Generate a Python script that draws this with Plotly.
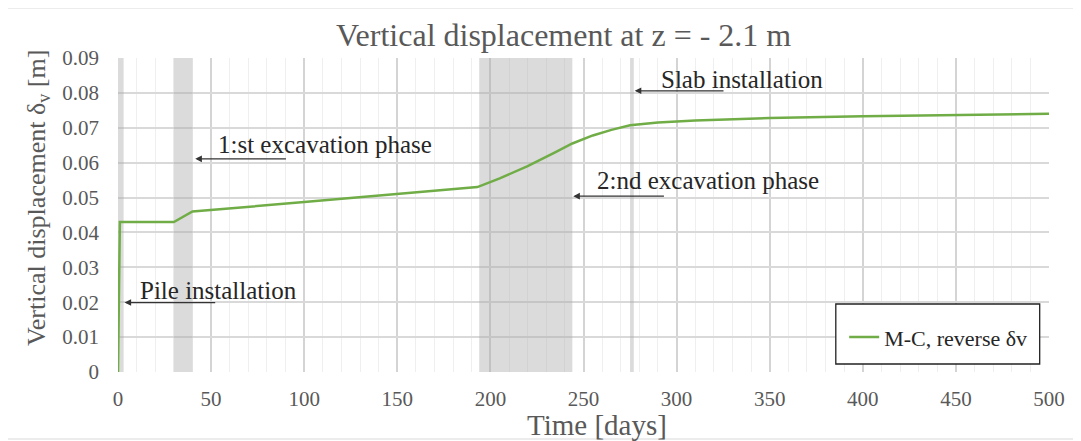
import plotly.graph_objects as go

# Datos
time_days = [0, 1, 30, 40, 100, 150, 193, 205, 220, 235, 244, 255, 265, 275, 290, 310, 350, 400, 450, 500]
disp_m = [0, 0.043, 0.043, 0.046, 0.0487, 0.051, 0.053, 0.0555, 0.059, 0.063, 0.0655, 0.0678,
          0.0694, 0.0707, 0.0715, 0.0721, 0.0728, 0.0733, 0.0737, 0.074]

# Fases de obra (inicio, fin) en dias
phase_start = [0, 30, 194, 275]
phase_end = [3, 40, 244, 277]

# Anotaciones: texto, x/y del texto, punta de la flecha, cola de la flecha
note_text = ['Pile installation', '1:st excavation phase', '2:nd excavation phase', 'Slab installation']
note_x = [10.5, 52.5, 256, 290.5]
note_y = [0.0234, 0.0653, 0.0548, 0.0837]
arrow_x = [3.5, 41.5, 244.5, 277.5]
arrow_y = [0.0199, 0.0611, 0.0504, 0.0806]
arrow_tail = [53, 91, 294, 326]

FONT = 'Liberation Serif'
GREY = '#595959'
GREEN = '#70AD47'

fig = go.Figure()
fig.add_trace(go.Scatter(
    x=time_days, y=disp_m, mode='lines',
    line=dict(color=GREEN, width=2.5),
    name='M-C, reverse δv'))

for s, e in zip(phase_start, phase_end):
    fig.add_shape(type='rect', xref='x', yref='y', x0=s, x1=e, y0=0, y1=0.09,
                  fillcolor='rgba(170,170,170,0.42)', line_width=0, layer='between')

for t, tx, ty, hx, hy, tail in zip(note_text, note_x, note_y, arrow_x, arrow_y, arrow_tail):
    fig.add_annotation(x=tx, y=ty, text=t, showarrow=False, xanchor='left', yanchor='middle',
                       font=dict(family=FONT, size=25, color='#262626'))
    fig.add_annotation(x=hx, y=hy, ax=tail, ay=hy, axref='x', ayref='y', text='',
                       showarrow=True, arrowhead=2, arrowsize=1.1, arrowwidth=1.2,
                       arrowcolor='#333333', standoff=0)

# titulos de ejes como anotaciones (posicion libre)
fig.add_annotation(xref='paper', yref='paper', x=-0.0859, y=0.554, textangle=-90,
                   text='Vertical displacement δ<sub>v</sub> [m]', showarrow=False,
                   xanchor='center', yanchor='middle',
                   font=dict(family=FONT, size=26, color=GREY))
fig.add_annotation(xref='paper', yref='paper', x=0.514, y=-0.169, text='Time [days]',
                   showarrow=False, xanchor='center', yanchor='middle',
                   font=dict(family=FONT, size=29, color=GREY))

# caja de la leyenda y borde exterior
fig.add_shape(type='rect', xref='paper', yref='paper', x0=0.771, x1=0.990, y0=0.0255, y1=0.2166,
              line=dict(color='#222222', width=1.3), fillcolor='white', layer='above')
fig.add_shape(type='rect', xref='paper', yref='paper', x0=-0.1192, x1=1.04, y0=-0.2134, y1=1.1592,
              line=dict(color='#D9D9D9', width=1))

# la pagina tiene 8 px de margen en el body, se compensa en los margenes
fig.update_layout(
    width=1081, height=441,
    margin=dict(l=110, r=40, t=50, b=77),
    paper_bgcolor='white', plot_bgcolor='white',
    title=dict(text='Vertical displacement at z = - 2.1 m', x=0.514, xanchor='center',
               y=0.94, yanchor='middle', font=dict(family=FONT, size=32, color=GREY)),
    showlegend=True,
    legend=dict(x=0.78, y=0.111, xanchor='left', yanchor='middle', bgcolor='rgba(0,0,0,0)',
                font=dict(family=FONT, size=22, color='#262626'), borderwidth=0),
)
fig.update_xaxes(
    range=[0, 500], tickvals=list(range(0, 501, 50)), showgrid=True,
    gridcolor='#D4D4D4', gridwidth=1.5, zeroline=False,
    minor=dict(dtick=10, showgrid=True, gridcolor='#EFEFEF', gridwidth=1),
    tickfont=dict(family=FONT, size=21, color=GREY), ticks='', ticklabelstandoff=12,
)
fig.update_yaxes(
    range=[0, 0.09], tickvals=[i / 100 for i in range(10)],
    ticktext=['0'] + ['0.0%d' % i for i in range(1, 10)],
    showgrid=True, gridcolor='#D9D9D9', gridwidth=1.5, zeroline=False,
    tickfont=dict(family=FONT, size=21, color=GREY), ticks='', ticklabelstandoff=18,
)
fig.write_html('out.html')
